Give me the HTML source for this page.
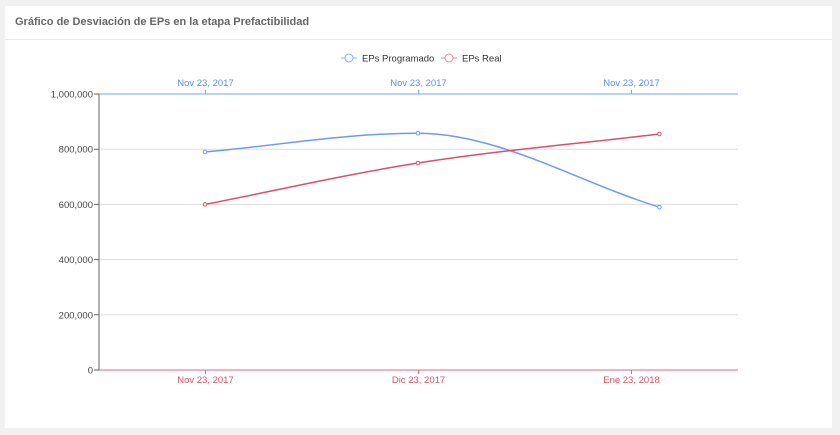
<!DOCTYPE html>
<html><head><meta charset="utf-8"><style>
body{margin:0;width:840px;height:435px;background:#f1f1f1;font-family:"Liberation Sans","DejaVu Sans",sans-serif;overflow:hidden}
#card{position:absolute;left:5px;top:6px;width:827px;height:422px;background:#fff}
#title{position:absolute;left:10px;top:10px;font-size:11px;color:#666;font-weight:bold}
#hr{position:absolute;left:0;top:33px;width:827px;height:1px;background:#e8e8e8}
svg{position:absolute;left:0;top:0}
</style></head><body>
<div id="card">
<div id="title">Gráfico de Desviación de EPs en la etapa Prefactibilidad</div>
<div id="hr"></div>
</div>
<svg id="chart" width="840" height="435" font-family="Liberation Sans, DejaVu Sans, sans-serif"></svg>
<script>
const categories=["Nov 23, 2017","Dic 23, 2017","Ene 23, 2018"];
const topLabels=["Nov 23, 2017","Nov 23, 2017","Nov 23, 2017"];
const dayOffsets=[0,30,64];
const programado=[790000,858000,590000];
const real=[600000,750000,855000];
const yTicks=[0,200000,400000,600000,800000,1000000];
const NS="http://www.w3.org/2000/svg";
const svg=document.getElementById('chart');
const L=99,R=738,T=94,B=370;
const y=v=>B-(v/1000000)*(B-T);
const xc=i=>L+(R-L)/categories.length*(i+0.5);
const xd=d=>205+d*7.1;
function mk(t,a,p){const e=document.createElementNS(NS,t);for(const k in a)e.setAttribute(k,a[k]);(p||svg).appendChild(e);return e;}
yTicks.forEach(v=>{
  if(v>0&&v<1000000){const g=mk('line',{x1:L,x2:R,y1:y(v),y2:y(v),stroke:'#ddd'});
  
  }
  mk('line',{x1:L-5,x2:L,y1:y(v),y2:y(v),stroke:'#666'});
  const t=mk('text',{x:L-6,y:y(v)+3.5,'text-anchor':'end','font-size':'9.5',fill:'#444'});
  t.textContent=v.toLocaleString('en-US');
  
  
});
mk('line',{x1:L,x2:L,y1:T,y2:B,stroke:'#666'});
mk('line',{x1:L,x2:R,y1:T,y2:T,stroke:'#7aa5f0'});
mk('line',{x1:L,x2:R,y1:B,y2:B,stroke:'#e06880'});
categories.forEach((c,i)=>{
  mk('line',{x1:xc(i),x2:xc(i),y1:B,y2:B+4,stroke:'#e06880'});
  const t=mk('text',{x:xc(i),y:B+13,'text-anchor':'middle','font-size':'9.5',fill:'#d9506c'});
  t.textContent=c;
  
  
  mk('line',{x1:xc(i),x2:xc(i),y1:T-4,y2:T,stroke:'#7aa5f0'});
  const u=mk('text',{x:xc(i),y:T-8,'text-anchor':'middle','font-size':'9.5',fill:'#5b8ff0'});
  u.textContent=topLabels[i];
  
  
});
function series(vals,color,name){
  const pts=vals.map((v,i)=>[xd(dayOffsets[i]),y(v)]);
  const n=pts.length,s=[],m=[];
  for(let i=0;i<n-1;i++)s.push((pts[i+1][1]-pts[i][1])/(pts[i+1][0]-pts[i][0]));
  for(let i=0;i<n;i++){
    if(i===0)m.push(s[0]);else if(i===n-1)m.push(s[n-2]);
    else m.push(s[i-1]*s[i]<=0?0:(s[i-1]+s[i])/2);
  }
  let d=`M${pts[0][0]},${pts[0][1]}`;
  for(let i=0;i<n-1;i++){
    const h=(pts[i+1][0]-pts[i][0])/3;
    d+=` C${pts[i][0]+h},${pts[i][1]+m[i]*h} ${pts[i+1][0]-h},${pts[i+1][1]-m[i+1]*h} ${pts[i+1][0]},${pts[i+1][1]}`;
  }
  const p=mk('path',{d,fill:'none',stroke:color,'stroke-width':1.5});
  
  
  pts.forEach(q=>{const c=mk('circle',{cx:q[0],cy:q[1],r:1.8,fill:'#fff',stroke:color,'stroke-width':1});
  
  });
}
series(programado,'#6b9bf0','programado');
series(real,'#d9506c','real');
function legend(x,color,label,name){
  mk('line',{x1:x,x2:x+16,y1:58,y2:58,stroke:color});
  mk('circle',{cx:x+8,cy:58,r:4,fill:'#fff',stroke:color});
  const t=mk('text',{x:x+21,y:61.5,'font-size':'9.5',fill:'#333'});
  t.textContent=label;
  
  
}
legend(341,'#8ab0f2','EPs Programado','legend-programado');
legend(441,'#e88a9c','EPs Real','legend-real');
</script>
</body></html>
